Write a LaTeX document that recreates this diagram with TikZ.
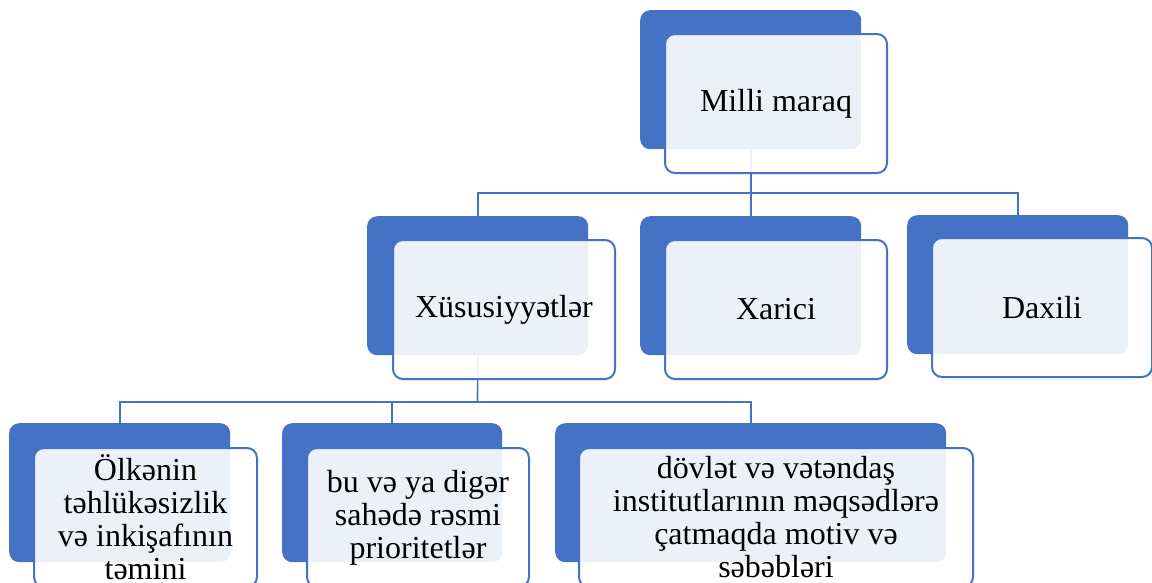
\documentclass[tikz,border=0pt]{standalone}
\usepackage{fontspec}
\setmainfont{Liberation Serif}
\definecolor{sablue}{RGB}{68,114,196}
\begin{document}
\begin{tikzpicture}[x=1pt,y=-1pt,
 backbox/.style={fill=sablue, rounded corners=10pt, minimum height=139pt, inner sep=0pt, anchor=north west},
 frontbox/.style={draw=sablue, line width=2pt, fill=white, fill opacity=0.9, text opacity=1, rounded corners=10pt, minimum height=139pt, inner sep=0pt, anchor=north west, align=center, font=\fontsize{32}{33}\selectfont},
 link/.style={draw=sablue, line width=1.6pt}]
\useasboundingbox (0,0) rectangle (1152,582);
\clip (0,0) rectangle (1152,582);
% back boxes
\node[backbox, minimum width=221pt] (mb) at (640,10) {};
\node[backbox, minimum width=221pt] (xb) at (367,216) {};
\node[backbox, minimum width=221pt] (ab) at (640,216) {};
\node[backbox, minimum width=221pt] (db) at (907,215) {};
\node[backbox, minimum width=221pt] (b1b) at (9,423) {};
\node[backbox, minimum width=220pt] (b2b) at (282,423) {};
\node[backbox, minimum width=391pt] (b3b) at (555,423) {};
% connectors
\draw[link] (mb.south) -- (ab.north);
\coordinate (tbar) at (750,193);
\draw[link] (xb.north) |- (tbar) -| (db.north);
\coordinate (bbar) at (477.5,402);
\draw[link] (xb.south) -- (bbar);
\draw[link] (b1b.north) |- (bbar) -| (b3b.north);
\draw[link] (b2b.north) -- (b2b.north |- bbar);
% front boxes
\node[frontbox, minimum width=222pt] (mf) at (664,33) {Milli maraq};
\node[frontbox, minimum width=222pt] (xf) at (392,239) {Xüsusiyyətlər};
\node[frontbox, minimum width=222pt] (af) at (664,239) {Xarici};
\node[frontbox, minimum width=220pt] (df) at (931,237) {Daxili};
\node[frontbox, minimum width=223pt] (b1f) at (33,447) {Ölkənin\\təhlükəsizlik\\və inkişafının\\təmini};
\node[frontbox, minimum width=222pt] (b2f) at (306,447) {bu və ya digər\\sahədə rəsmi\\prioritetlər};
\node[frontbox, minimum width=394pt] (b3f) at (578,447) {dövlət və vətəndaş\\institutlarının məqsədlərə\\çatmaqda motiv və\\səbəbləri};
\end{tikzpicture}
\end{document}
